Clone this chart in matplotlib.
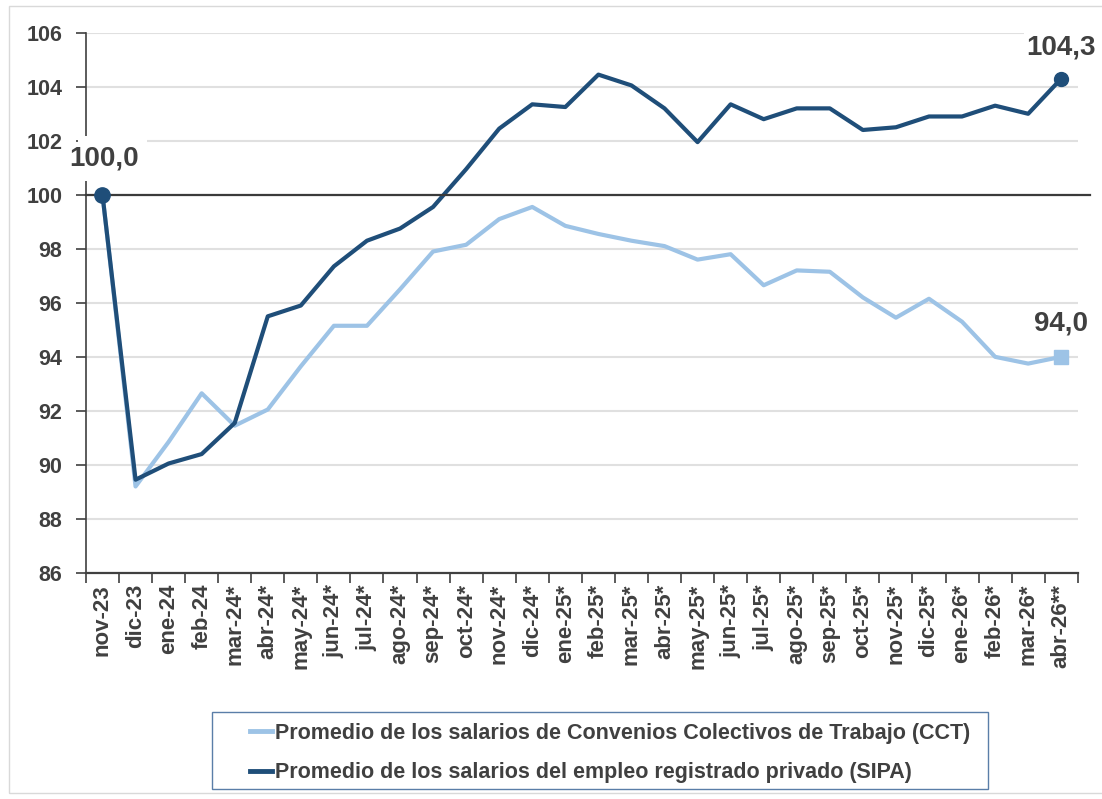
import matplotlib.pyplot as plt
import numpy as np
from matplotlib.patches import Rectangle

plt.rcParams["font.family"] = ["Liberation Sans", "DejaVu Sans"]

months = [
    "nov-23", "dic-23", "ene-24", "feb-24", "mar-24*", "abr-24*", "may-24*",
    "jun-24*", "jul-24*", "ago-24*", "sep-24*", "oct-24*", "nov-24*", "dic-24*",
    "ene-25*", "feb-25*", "mar-25*", "abr-25*", "may-25*", "jun-25*", "jul-25*",
    "ago-25*", "sep-25*", "oct-25*", "nov-25*", "dic-25*", "ene-26*", "feb-26*",
    "mar-26*", "abr-26**",
]

sipa = [
    100.0, 89.45, 90.05, 90.4, 91.55, 95.5, 95.9, 97.35, 98.3, 98.75,
    99.55, 100.95, 102.45, 103.35, 103.25, 104.45, 104.05, 103.2, 101.95, 103.35,
    102.8, 103.2, 103.2, 102.4, 102.5, 102.9, 102.9, 103.3, 103.0, 104.3,
]

cct = [
    100.0, 89.2, 90.85, 92.65, 91.45, 92.05, 93.65, 95.15, 95.15, 96.5,
    97.9, 98.15, 99.1, 99.55, 98.85, 98.55, 98.3, 98.1, 97.6, 97.8,
    96.65, 97.2, 97.15, 96.2, 95.45, 96.15, 95.3, 94.0, 93.75, 94.0,
]

DARK = "#1f4e79"
LIGHT = "#9dc3e6"
TEXT = "#404040"

fig = plt.figure(figsize=(11.02, 7.99), dpi=100)
# chart area border (right side runs off the picture)
fig.patches.append(Rectangle((0.008, 0.008), 1.1, 0.984, transform=fig.transFigure,
                             fill=False, edgecolor="#d9d9d9", linewidth=1))
# legend box
fig.patches.append(Rectangle((0.1924, 0.0125), 0.7042, 0.0964, transform=fig.transFigure,
                             fill=False, edgecolor="#5a7ea8", linewidth=1.0))
ax = fig.add_axes([0.078, 0.283, 0.900, 0.676])

x = np.arange(len(months))
ax.plot(x, cct, color=LIGHT, linewidth=3, label="Promedio de los salarios de Convenios Colectivos de Trabajo (CCT)")
ax.plot(x, sipa, color=DARK, linewidth=3, label="Promedio de los salarios del empleo registrado privado (SIPA)")

ax.plot(x[0], sipa[0], "o", color=DARK, markersize=11, zorder=5)
ax.plot(x[-1], sipa[-1], "o", color=DARK, markersize=10, zorder=5)
ax.plot(x[-1], cct[-1], "s", color=LIGHT, markersize=10, zorder=5)

ax.plot([0, 1.012], [100, 100], transform=ax.get_yaxis_transform(), color="#3a3a3a",
        linewidth=1.6, clip_on=False, zorder=3)

# white label background over the axis line, as in the original
ax.add_patch(Rectangle((-0.75, 100.5), 2.1, 1.68, facecolor="white", edgecolor="none",
                       clip_on=False, zorder=4))

label_kw = dict(fontsize=20, fontweight="bold", color=TEXT, ha="center", va="center",
                zorder=6)
ax.text(x[0] + 0.05, 101.35, "100,0", clip_on=False, **label_kw)
ax.text(x[-1], 105.45, "104,3", clip_on=False,
        bbox=dict(facecolor="white", edgecolor="none", pad=2), **label_kw)
ax.text(x[-1], 95.25, "94,0", bbox=dict(facecolor="white", edgecolor="none", pad=2),
        **label_kw)

ax.set_xlim(-0.5, len(months) - 0.5)
ax.set_ylim(86, 106)
ax.set_yticks(np.arange(86, 107, 2))
ax.yaxis.grid(True, color="#e0e0e0", linewidth=1.5)
ax.set_axisbelow(True)

ax.set_xticks(x)
ax.set_xticklabels(months, rotation=90, fontsize=16, fontweight="bold", color=TEXT)
ax.set_xticks(np.arange(-0.5, len(months), 1), minor=True)
ax.tick_params(axis="x", which="major", length=0, pad=8)
ax.tick_params(axis="x", which="minor", length=7, width=1.2, color="#404040")
ax.tick_params(axis="y", length=7, width=1.2, color="#404040", labelsize=15.5,
               labelcolor=TEXT, pad=10)
for lab in ax.get_yticklabels():
    lab.set_fontweight("bold")

for side in ["top", "right"]:
    ax.spines[side].set_visible(False)
ax.spines["left"].set_color("#404040")
ax.spines["left"].set_linewidth(1.2)
ax.spines["bottom"].set_color("#404040")
ax.spines["bottom"].set_linewidth(1.6)

leg = fig.legend(loc="center left", bbox_to_anchor=(0.227, 0.0576), ncol=1, frameon=False,
                 handlelength=1.0, handletextpad=0.15, labelspacing=0.85,
                 borderpad=0, borderaxespad=0, prop={"size": 15.5, "weight": "bold"})
for t in leg.get_texts():
    t.set_color(TEXT)
for h in leg.get_lines():
    h.set_linewidth(3.5)

fig.savefig("out.png", dpi=100)
